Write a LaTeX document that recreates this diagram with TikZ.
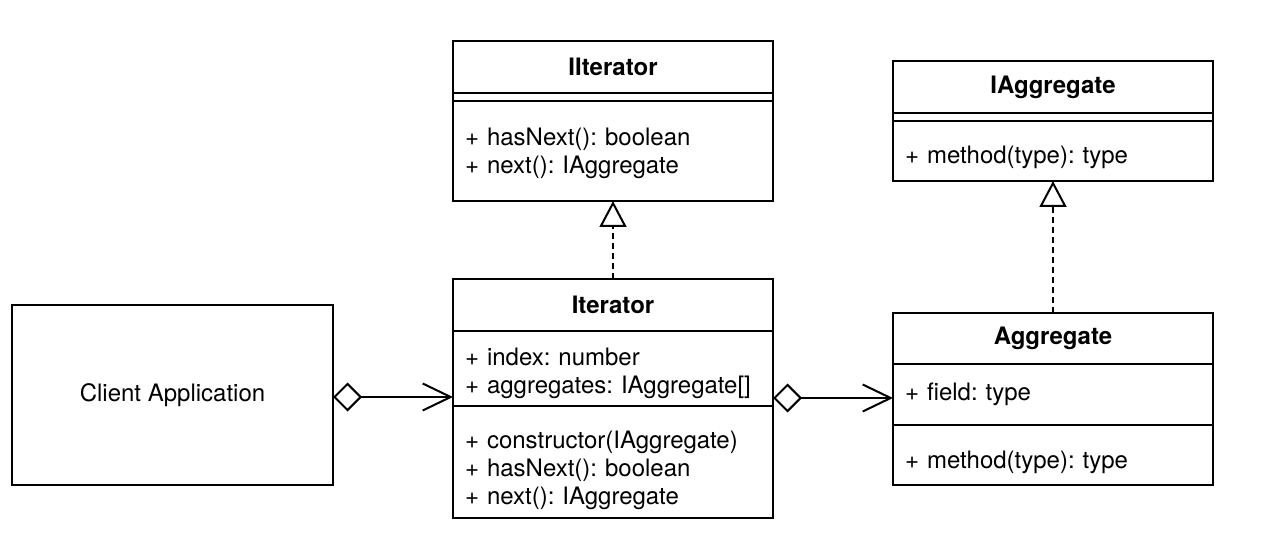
\documentclass[tikz,border=0pt]{standalone}
\usepackage{fontspec}
\setmainfont{TeX Gyre Heros}
\frenchspacing
\usepackage{tikz}
\usetikzlibrary{positioning}
\usetikzlibrary{arrows.meta}

\begin{document}
\begin{tikzpicture}[
    x = .5pt,
    y = -.5pt,
    font = \fontsize{12}{14}\selectfont,
    line width = 1pt,
    node distance = 0pt,
    classhead/.style = {
      rectangle,
      draw,
      font=\fontsize{12}{14}\selectfont\bfseries,
      minimum width=160pt,
      minimum height=26pt,
      inner sep=0pt,
      outer sep=0pt,
      anchor=north
    },
    classbody/.style = {
      rectangle,
      draw,
      text width=148pt,
      align=left,
      inner xsep=6pt,
      inner ysep=0pt,
      outer sep=0pt
    },
    toppad/.style = {
      execute at begin node={\rule{0pt}{#1}}
    },
    clientbox/.style = {
      rectangle,
      draw,
      minimum width=160.5pt,
      minimum height=90pt,
      outer sep=0pt
    },
    realize/.style = {
      dash pattern=on 3pt off 2pt,
      -{Triangle[open, length=13pt, width=13.5pt]}
    },
    aggr/.style = {
      {Diamond[open, length=14.5pt, width=14.5pt]}-{Straight Barb[length=14pt, width=13.5pt]}
    }
  ]
    \useasboundingbox (0,0) rectangle (1268,534);

    % client
    \node[clientbox] (client) at (172.5,395) {Client Application};

    % IIterator
    \node[classhead] (iithead) at (613,41) {IIterator};
    \node[classbody, minimum height=4pt] (iitattr) [below=of iithead] {};
    \node[classbody, minimum height=50pt, toppad=11pt] (iitmeth) [below=of iitattr]
      {+ hasNext(): boolean\\+ next(): IAggregate};

    % Iterator
    \node[classhead] (ithead) at (613,279) {Iterator};
    \node[classbody, minimum height=37.5pt, toppad=13.5pt] (itattr) [below=of ithead]
      {+ index: number\\+ aggregates: IAggregate[]};
    \node[classbody, minimum height=56pt, toppad=17.5pt] (itmeth) [below=of itattr]
      {+ constructor(IAggregate)\\+ hasNext(): boolean\\+ next(): IAggregate};

    % IAggregate
    \node[classhead] (iaghead) at (1053,61) {IAggregate};
    \node[classbody, minimum height=4pt] (iagattr) [below=of iaghead] {};
    \node[classbody, minimum height=30pt, toppad=15pt] (iagmeth) [below=of iagattr]
      {+ method(type): type};

    % Aggregate
    \node[classhead, minimum height=25.5pt] (aghead) at (1053,313) {Aggregate};
    \node[classbody, minimum height=30.5pt] (agattr) [below=of aghead]
      {+ field: type};
    \node[classbody, minimum height=30pt, toppad=16pt] (agmeth) [below=of agattr]
      {+ method(type): type};

    % relations
    \draw[realize] (ithead) -- (iitmeth);
    \draw[realize] (aghead) -- (iagmeth);
    \draw[aggr] ([yshift=-1pt]client.east) -- ([yshift=-1pt]client.east -| itattr.west);
    \draw[aggr] ([yshift=-1.75pt]agattr.west -| itattr.east) -- ([yshift=-1.75pt]agattr.west);
  \end{tikzpicture}
\end{document}
